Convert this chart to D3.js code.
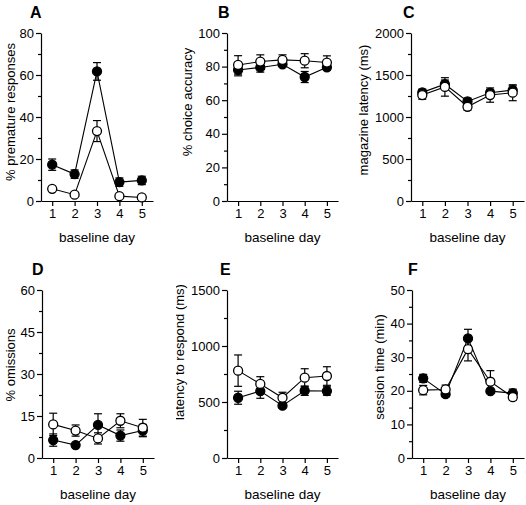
<!DOCTYPE html>
<html><head><meta charset="utf-8">
<script src="https://cdn.jsdelivr.net/npm/d3@7"></script>
<style>
body{margin:0;background:#fff;}
svg{display:block;font-family:"Liberation Sans",Arial,sans-serif;}
</style></head>
<body>
<script>
// ---- data ----
const days = [1, 2, 3, 4, 5];
const dayTicks = ["1", "2", "3", "4", "5"];
const panelLetters = ["A", "B", "C", "D", "E", "F"];
const yLabels = ["% premature responses", "% choice accuracy", "magazine latency (ms)",
                 "% omissions", "latency to respond (ms)", "session time (min)"];
const yMax = [80, 100, 2000, 60, 1500, 50];
const yMajorStep = [20, 20, 500, 15, 500, 10];
const xLabel = "baseline day";

// filled (black) series and SEM
const filledA = [17.3, 12.8, 61.7, 9.0, 9.8];   const filledErrA = [2.7, 2.0, 4.2, 2.0, 2.0];
const openA   = [5.8, 3.0, 33.3, 2.3, 1.7];     const openErrA   = [0.5, 0.5, 5.0, 0.5, 0.5];
const filledB = [78.0, 79.5, 81.4, 73.8, 79.6]; const filledErrB = [3.5, 2.8, 1.2, 3.3, 1.5];
const openB   = [81.0, 83.0, 84.0, 83.5, 82.4]; const openErrB   = [5.5, 4.0, 3.0, 4.2, 4.0];
const filledC = [1293, 1390, 1185, 1289, 1321]; const filledErrC = [38, 50, 40, 35, 50];
const openC   = [1261, 1358, 1122, 1261, 1289]; const openErrC   = [50, 110, 40, 85, 95];
const filledD = [6.4, 4.6, 11.8, 8.0, 9.8];     const filledErrD = [2.2, 0.5, 4.0, 2.0, 2.2];
const openD   = [12.0, 9.8, 7.0, 13.3, 10.8];   const openErrD   = [4.0, 2.0, 2.0, 2.5, 3.0];
const filledE = [538, 598, 467, 601, 598];      const filledErrE = [58, 65, 20, 42, 38];
const openE   = [780, 661, 538, 717, 732];      const openErrE   = [140, 65, 49, 80, 83];
const filledF = [23.7, 19.0, 35.6, 19.9, 19.3]; const filledErrF = [1.2, 0.8, 2.7, 0.5, 1.2];
const openF   = [20.2, 20.4, 32.4, 22.7, 18.1]; const openErrF   = [1.4, 1.3, 3.5, 3.3, 0.9];

const filled = [filledA, filledB, filledC, filledD, filledE, filledF];
const filledErr = [filledErrA, filledErrB, filledErrC, filledErrD, filledErrE, filledErrF];
const open = [openA, openB, openC, openD, openE, openF];
const openErr = [openErrA, openErrB, openErrC, openErrD, openErrE, openErrF];

// ---- layout ----
const W = 526, H = 505;
const layout = [
  {x0: 41,  x1: 153, yb: 201, yt: 33,  lx: 30,  ly: 18,  labX: 10,  labY: 112},
  {x0: 227, x1: 338, yb: 201, yt: 33,  lx: 218, ly: 18,  labX: 187, labY: 102},
  {x0: 411, x1: 524, yb: 201, yt: 33,  lx: 403, ly: 18,  labX: 363, labY: 110},
  {x0: 42,  x1: 154, yb: 458, yt: 290, lx: 32,  ly: 275, labX: 10,  labY: 365},
  {x0: 227, x1: 338, yb: 458, yt: 290, lx: 220, ly: 275, labX: 179, labY: 352},
  {x0: 412, x1: 524, yb: 458, yt: 290, lx: 408, ly: 275, labX: 379, labY: 367}
];

const FONT = '"Liberation Sans",Arial,sans-serif';
const svg = d3.select("body").append("svg").attr("width", W).attr("height", H);
svg.append("defs").append("clipPath").attr("id", "clipE")
  .append("rect").attr("x", 176).attr("y", 250).attr("width", 175).attr("height", 255);

layout.forEach((L, i) => {
  const x = d3.scaleLinear().domain([0.5, 5.5]).range([L.x0, L.x1]);
  const y = d3.scaleLinear().domain([0, yMax[i]]).range([L.yb, L.yt]);
  const g = svg.append("g");

  // panel letter
  g.append("text").attr("x", L.lx).attr("y", L.ly)
    .attr("font-size", 16).attr("font-weight", "bold").text(panelLetters[i]);

  // y axis (major + minor ticks)
  const majors = d3.range(0, yMax[i] + 1e-9, yMajorStep[i]);
  const minors = d3.range(yMajorStep[i] / 2, yMax[i], yMajorStep[i]);
  const yAx = g.append("g").attr("transform", `translate(${L.x0},0)`)
    .call(d3.axisLeft(y).tickValues(majors).tickFormat(d3.format("d"))
      .tickSize(5).tickPadding(2).tickSizeOuter(0));
  yAx.selectAll("text").attr("font-size", 13).attr("fill", "#000").attr("font-family", FONT);
  yAx.select(".domain").attr("stroke", "#000").attr("stroke-width", 1.2);
  yAx.selectAll(".tick line").attr("stroke", "#000").attr("stroke-width", 1.2);
  const yMin = g.append("g").attr("transform", `translate(${L.x0},0)`)
    .call(d3.axisLeft(y).tickValues(minors).tickSize(3).tickFormat("").tickSizeOuter(0));
  yMin.select(".domain").remove();
  yMin.selectAll(".tick line").attr("stroke", "#000").attr("stroke-width", 1.2);

  // x axis
  const xAx = g.append("g").attr("transform", `translate(0,${L.yb})`)
    .call(d3.axisBottom(x).tickValues(days).tickFormat((d, k) => dayTicks[k])
      .tickSize(5).tickPadding(3).tickSizeOuter(0));
  xAx.selectAll("text").attr("font-size", 13).attr("fill", "#000").attr("font-family", FONT);
  xAx.select(".domain").attr("stroke", "#000").attr("stroke-width", 1.2);
  xAx.selectAll(".tick line").attr("stroke", "#000").attr("stroke-width", 1.2);

  // axis labels
  g.append("text").attr("x", (L.x0 + L.x1) / 2).attr("y", L.yb + 41)
    .attr("text-anchor", "middle").attr("font-size", 13.5).text(xLabel);
  const ylg = g.append("g");
  if (i === 4) ylg.attr("clip-path", "url(#clipE)");
  ylg.append("text")
    .attr("transform", `translate(${L.labX},${L.labY}) rotate(-90)`)
    .attr("text-anchor", "middle").attr("dominant-baseline", "central")
    .attr("font-size", 13).text(yLabels[i]);

  const line = d3.line().x((d, k) => x(days[k])).y(d => y(d));

  function drawSeries(vals, errs, isFilled) {
    const s = g.append("g");
    vals.forEach((v, k) => {
      const cx = x(days[k]);
      const yt = y(v + errs[k]), yb2 = y(v - errs[k]);
      s.append("line").attr("x1", cx).attr("x2", cx).attr("y1", yt).attr("y2", yb2)
        .attr("stroke", "#000").attr("stroke-width", 1.2);
      [yt, yb2].forEach(yy => s.append("line").attr("x1", cx - 4).attr("x2", cx + 4)
        .attr("y1", yy).attr("y2", yy).attr("stroke", "#000").attr("stroke-width", 1.2));
    });
    s.append("path").datum(vals).attr("d", line).attr("fill", "none")
      .attr("stroke", "#000").attr("stroke-width", 1.1);
    s.selectAll("circle").data(vals).join("circle")
      .attr("cx", (d, k) => x(days[k])).attr("cy", d => y(d)).attr("r", 4.5)
      .attr("fill", isFilled ? "#000" : "#fff").attr("stroke", "#000").attr("stroke-width", 1.3);
  }
  drawSeries(filled[i], filledErr[i], true);
  drawSeries(open[i], openErr[i], false);
});
</script>
</body></html>
